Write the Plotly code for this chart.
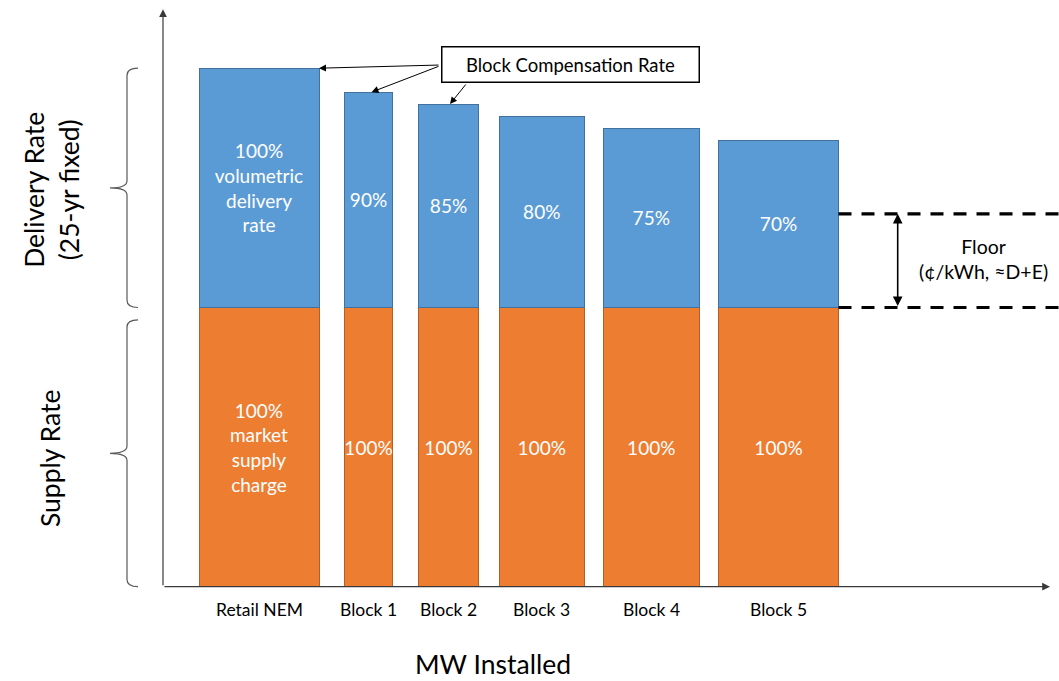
import plotly.graph_objects as go

# ---------------- data ----------------
categories = ["Retail NEM", "Block 1", "Block 2", "Block 3", "Block 4", "Block 5"]
block_start = [36, 181.5, 255.5, 336.5, 440.5, 555.5]       # MW installed (cumulative start)
block_mw = [120, 48, 60, 84.5, 95.5, 120]                  # MW per block
supply_rate = 7.0                                          # ¢/kWh market supply charge
delivery_rate = 6.0                                        # ¢/kWh volumetric delivery rate
delivery_pct = [100, 90, 85, 80, 75, 70]                   # % of delivery rate compensated
supply_pct = [100, 100, 100, 100, 100, 100]
floor_adder = 2.35                                         # ¢/kWh floor above supply
delivery_text = ["100%<br>volumetric<br>delivery<br>rate", "90%", "85%", "80%", "75%", "70%"]
supply_text = ["100%<br>market<br>supply<br>charge", "100%", "100%", "100%", "100%", "100%"]

supply_vals = [supply_rate * p / 100 for p in supply_pct]
delivery_vals = [delivery_rate * p / 100 for p in delivery_pct]
centers = [s + w / 2 for s, w in zip(block_start, block_mw)]
ends = [s + w for s, w in zip(block_start, block_mw)]
tops = [a + b for a, b in zip(supply_vals, delivery_vals)]

FONT = "Lato"
X_RANGE = [-163, 896]
Y_RANGE = [-2.364, 14.71]

fig = go.Figure()
fig.add_trace(go.Bar(
    x=block_start, y=supply_vals, width=block_mw, offset=0,
    marker=dict(color="#ED7D31", line=dict(color="#B35F24", width=1)),
    text=supply_text, textposition="inside", insidetextanchor="middle",
    textangle=0, textfont=dict(color="white", size=19, family=FONT),
    name="Supply", hoverinfo="skip"))
fig.add_trace(go.Bar(
    x=block_start, y=delivery_vals, width=block_mw, offset=0,
    marker=dict(color="#5B9BD5", line=dict(color="#41719C", width=1)),
    text=delivery_text, textposition="inside", insidetextanchor="middle",
    textangle=0, textfont=dict(color="white", size=19, family=FONT),
    name="Delivery", hoverinfo="skip"))

ann = []
shapes = []

# axes as arrows
y_axis_top = 14.48
x_axis_end = 887
ann.append(dict(x=0, y=y_axis_top, ax=0, ay=0, axref="x", ayref="y", xref="x", yref="y",
                text="", showarrow=True, arrowhead=2, arrowsize=1.3, arrowwidth=1.2,
                arrowcolor="#3a3a3a", standoff=0, startstandoff=0))
ann.append(dict(x=x_axis_end, y=0, ax=0, ay=0, axref="x", ayref="y", xref="x", yref="y",
                text="", showarrow=True, arrowhead=2, arrowsize=1.3, arrowwidth=1.2,
                arrowcolor="#3a3a3a", standoff=0, startstandoff=0))

# category labels
for c, lab in zip(centers, categories):
    ann.append(dict(x=c, y=-0.58, xref="x", yref="y", text=lab, showarrow=False,
                    font=dict(family=FONT, size=17.5, color="#000000")))

ann.append(dict(x=330, y=-1.95, xref="x", yref="y", text="MW Installed", showarrow=False,
                font=dict(family=FONT, size=26.5, color="#000000")))

# side titles
ann.append(dict(x=-112, y=9.95, xref="x", yref="y", text="Delivery Rate<br>(25-yr fixed)",
                showarrow=False, textangle=-90,
                font=dict(family=FONT, size=26.5, color="#000000")))
ann.append(dict(x=-113, y=3.2, xref="x", yref="y", text="Supply Rate",
                showarrow=False, textangle=-90,
                font=dict(family=FONT, size=26.5, color="#000000")))

# braces
def brace(y0, y1):
    ym = (y0 + y1) / 2
    xe, xv, xt, r = -25, -36, -53, 0.18
    return (f"M {xe},{y1} Q {xv},{y1} {xv},{y1 - r} L {xv},{ym + r} "
            f"Q {xv},{ym} {xt},{ym} Q {xv},{ym} {xv},{ym - r} "
            f"L {xv},{y0 + r} Q {xv},{y0} {xe},{y0}")

shapes.append(dict(type="path", xref="x", yref="y", path=brace(supply_vals[0], tops[0]),
                   line=dict(color="#595959", width=1.2)))
shapes.append(dict(type="path", xref="x", yref="y", path=brace(0, supply_vals[0] - 0.31),
                   line=dict(color="#595959", width=1.2)))

# Block compensation callout
box_x, box_y = 407, 13.1
ann.append(dict(x=box_x, y=box_y, xref="x", yref="y", text="Block Compensation Rate",
                showarrow=False, bgcolor="white", bordercolor="#000000", borderwidth=1.5,
                borderpad=3, width=250, height=28,
                font=dict(family=FONT, size=18.5, color="#000000")))
arrow_specs = [
    (277, 13.08, ends[0], tops[0]),
    (277, 13.06, centers[1] + 3, tops[1]),
    (304, 12.63, centers[2] + 1.5, tops[2]),
]
for tx, ty, hx, hy in arrow_specs:
    ann.append(dict(x=hx, y=hy, ax=tx, ay=ty, xref="x", yref="y", axref="x", ayref="y",
                    text="", showarrow=True, arrowhead=2, arrowsize=1.4, arrowwidth=1,
                    arrowcolor="#000000", standoff=0, startstandoff=0))

# Floor
floor_top = supply_rate + floor_adder
for yv in (supply_rate, floor_top):
    shapes.append(dict(type="line", xref="x", yref="y", x0=ends[-1], x1=X_RANGE[1],
                       y0=yv, y1=yv, line=dict(color="#000000", width=3.2, dash="13px,10px")))
ann.append(dict(x=734.7, y=floor_top, ax=734.7, ay=supply_rate, xref="x", yref="y",
                axref="x", ayref="y", text="", showarrow=True, arrowhead=2, arrowside="end+start",
                arrowsize=1.2, arrowwidth=1.6, arrowcolor="#000000", standoff=0, startstandoff=0))
ann.append(dict(x=820, y=8.21, xref="x", yref="y", text="Floor<br>(¢/kWh, ≈D+E)",
                showarrow=False, font=dict(family=FONT, size=19.5, color="#000000")))

fig.update_layout(
    width=1059, height=681,
    margin=dict(l=0, r=0, t=0, b=0),
    paper_bgcolor="white", plot_bgcolor="white",
    barmode="stack", showlegend=False,
    uniformtext=dict(minsize=19, mode="show"),
    xaxis=dict(range=X_RANGE, visible=False, fixedrange=True),
    yaxis=dict(range=Y_RANGE, visible=False, fixedrange=True),
    annotations=ann, shapes=shapes,
    font=dict(family=FONT),
)

fig.write_html("out.html")
